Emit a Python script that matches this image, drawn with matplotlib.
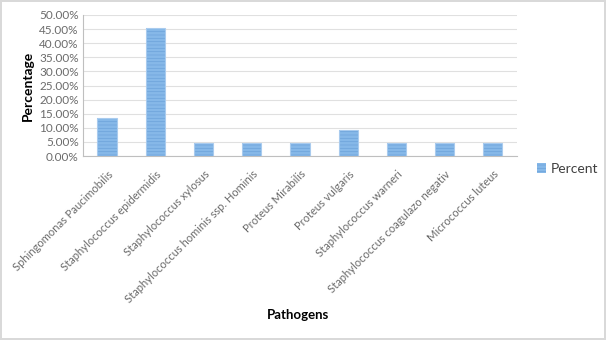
import matplotlib
matplotlib.use("Agg")
import matplotlib.pyplot as plt
from matplotlib.ticker import MultipleLocator, FuncFormatter

# data
pathogens = [
    "Sphingomonas Paucimobilis",
    "Staphylococcus epidermidis",
    "Staphylococcus xylosus",
    "Staphylococcus hominis ssp. Hominis",
    "Proteus Mirabilis",
    "Proteus vulgaris",
    "Staphylococcus warneri",
    "Staphylococcus coagulazo negativ",
    "Micrococcus luteus",
]
percent = [0.1364, 0.4545, 0.0455, 0.0455, 0.0455, 0.0909, 0.0455, 0.0455, 0.0455]

plt.rcParams['font.family'] = ['Lato', 'DejaVu Sans']
plt.rcParams['hatch.linewidth'] = 0.5

fig = plt.figure(figsize=(6.06, 3.40), dpi=100)
fig.patch.set_edgecolor('#d9d9d9')
fig.patch.set_linewidth(1.5)
ax = fig.add_axes([0.137, 0.541, 0.716, 0.415])

x = range(len(pathogens))
# barras com listras horizontais, contorno claro por cima
ax.bar(x, percent, width=0.4, color='#86b8e8', edgecolor='#6da2da',
       hatch='-----', linewidth=0, label='Percent', zorder=3)
ax.bar(x, percent, width=0.4, color='none', edgecolor='#a9cbee',
       linewidth=0.8, zorder=4)

ax.set_ylim(0, 0.5)
ax.set_xlim(-0.5, len(pathogens) - 0.5)
ax.yaxis.set_major_locator(MultipleLocator(0.05))
ax.yaxis.set_major_formatter(FuncFormatter(lambda v, p: f"{v*100:.2f}%"))
ax.grid(axis='y', color='#e0e0e0', linewidth=0.8, zorder=0)
ax.set_axisbelow(True)

for s in ['top', 'right']:
    ax.spines[s].set_visible(False)
ax.spines['left'].set_color('#bfbfbf')
ax.spines['bottom'].set_color('#bfbfbf')
ax.tick_params(axis='both', length=0, colors='#6b6b6b', labelsize=8.5, pad=3)
ax.tick_params(axis='x', pad=9)

ax.set_xticks(list(x))
ax.set_xticklabels(pathogens, rotation=45, ha='right', rotation_mode='anchor', fontsize=8)

ax.set_ylabel('Percentage', fontsize=10, fontweight='bold', color='black', labelpad=4)
fig.text(0.492, 0.073, 'Pathogens', ha='center', va='center', fontsize=9.5, fontweight='bold')

fig.legend(loc='center left', bbox_to_anchor=(0.865, 0.503), frameon=False,
           fontsize=10, handlelength=0.7, handleheight=0.7, handletextpad=0.3,
           labelcolor='#404040')

fig.savefig('out.png', dpi=100)
